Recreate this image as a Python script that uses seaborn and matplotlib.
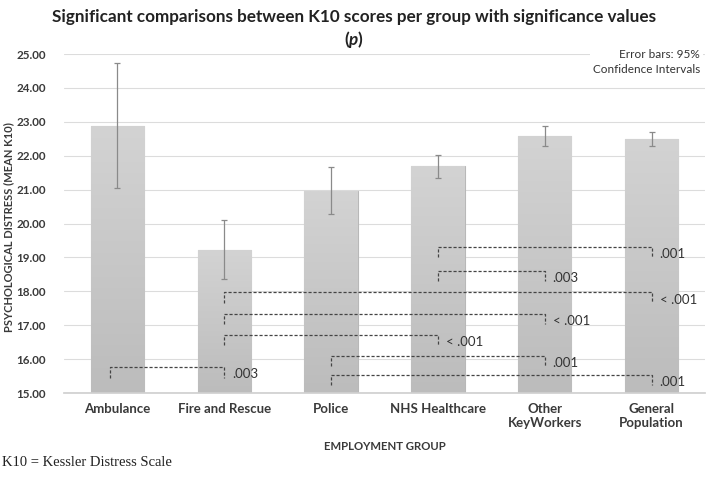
import numpy as np
import pandas as pd
import matplotlib
matplotlib.use("Agg")
import matplotlib.pyplot as plt
import seaborn as sns
from matplotlib.colors import LinearSegmentedColormap

# mean K10 per employment group with 95% CI bounds
groups = ["Ambulance", "Fire and Rescue", "Police", "NHS Healthcare",
          "Other\nKeyWorkers", "General\nPopulation"]
mean_k10 = [22.88, 19.22, 20.95, 21.69, 22.58, 22.50]
ci_low = [21.04, 18.37, 20.27, 21.35, 22.29, 22.29]
ci_high = [24.73, 20.10, 21.66, 22.03, 22.88, 22.71]

# significant pairwise comparisons (group index pairs), bracket height, p value
pair_left = [3, 3, 1, 1, 1, 2, 0, 2]
pair_right = [5, 4, 5, 4, 3, 4, 1, 5]
bracket_y = [19.32, 18.60, 17.97, 17.33, 16.71, 16.09, 15.76, 15.53]
p_labels = [".001", ".003", "< .001", "< .001", "< .001", ".001", ".003", ".001"]

sns.set_theme(style="white")
plt.rcParams["font.family"] = ["Lato", "DejaVu Sans"]
plt.rcParams["mathtext.fontset"] = "custom"
plt.rcParams["mathtext.bf"] = "Lato:bold"
plt.rcParams["mathtext.bfit"] = "Lato:bold:italic"

fig = plt.figure(figsize=(7.09, 4.8), dpi=100)
ax = fig.add_axes([0.0903, 0.181, 0.904, 0.7065])

df = pd.DataFrame({"group": groups, "mean": mean_k10})
sns.barplot(data=df, x="group", y="mean", color="#c8c8c8", width=0.5,
            edgecolor="#b8b8b8", linewidth=0.8, ax=ax, zorder=2)

# light vertical gradient inside each bar
grad = LinearSegmentedColormap.from_list("g", ["#bcbcbc", "#d3d3d3"])
for patch in ax.patches:
    x0 = patch.get_x()
    x1 = x0 + patch.get_width()
    top = patch.get_height()
    im = ax.imshow(np.linspace(0, 1, 100).reshape(-1, 1), cmap=grad,
                   extent=[x0, x1, 15, top], origin="lower", aspect="auto", zorder=2)
    im.set_clip_path(patch)
ax.set_xlim(-0.5, 5.5)
ax.set_ylim(15, 25)

means = np.array(mean_k10)
ax.errorbar(np.arange(len(groups)), means,
            yerr=[means - np.array(ci_low), np.array(ci_high) - means],
            fmt="none", ecolor="#8a8a8a", elinewidth=0.9, capsize=2.5,
            capthick=0.9, zorder=3)

drop = 0.3
for xl, xr, y, lab in zip(pair_left, pair_right, bracket_y, p_labels):
    if xl == 0:
        xl -= 0.065
    ax.plot([xl, xl, xr, xr], [y - drop, y, y, y - drop],
            ls=(0, (2.5, 1.5)), color="#444444", lw=0.9, zorder=4)
    ax.text(xr + 0.075, y - 0.21, lab, ha="left", va="center",
            fontsize=9.5, color="#333333", zorder=5)

ax.set_yticks(np.arange(15, 25.01, 1))
ax.set_yticklabels([f"{v:.2f}" for v in np.arange(15, 25.01, 1)])
ax.yaxis.grid(True, color="#dcdcdc", lw=0.8, zorder=0)
ax.set_axisbelow(True)
for s in ["top", "right", "left"]:
    ax.spines[s].set_visible(False)
ax.spines["bottom"].set_color("#d0d0d0")
ax.tick_params(axis="x", length=0, labelsize=9.5, labelcolor="#3a3a3a", pad=7)
ax.tick_params(axis="y", length=0, labelsize=8.4, labelcolor="#3a3a3a", pad=13)
for lbl in ax.get_xticklabels() + ax.get_yticklabels():
    lbl.set_fontweight("bold")

ax.set_xlabel("EMPLOYMENT GROUP", fontsize=8.2, fontweight="bold",
              color="#3a3a3a", labelpad=9)
ax.set_ylabel("PSYCHOLOGICAL DISTRESS (MEAN K10)", fontsize=8, fontweight="bold",
              color="#3a3a3a")
ax.yaxis.set_label_coords(-0.078, 0.49)

fig.text(0.5, 0.965, "Significant comparisons between K10 scores per group with significance values",
         ha="center", va="center", fontsize=12.3, fontweight="bold", color="#222222")
fig.text(0.5, 0.917, r"$\mathbf{(}\mathbfit{p}\mathbf{)}$",
         ha="center", va="center", fontsize=12.3, color="#222222")
fig.text(0.987, 0.897, "Error bars: 95%\nConfidence Intervals", ha="right", va="top",
         fontsize=8.5, color="#333333", linespacing=1.35,
         bbox=dict(facecolor="white", edgecolor="none", pad=2))
fig.text(0.003, 0.037, "K10 = Kessler Distress Scale", ha="left", va="center",
         fontsize=10.5, family="Liberation Serif", color="#222222")

fig.savefig("out.png", dpi=100)
